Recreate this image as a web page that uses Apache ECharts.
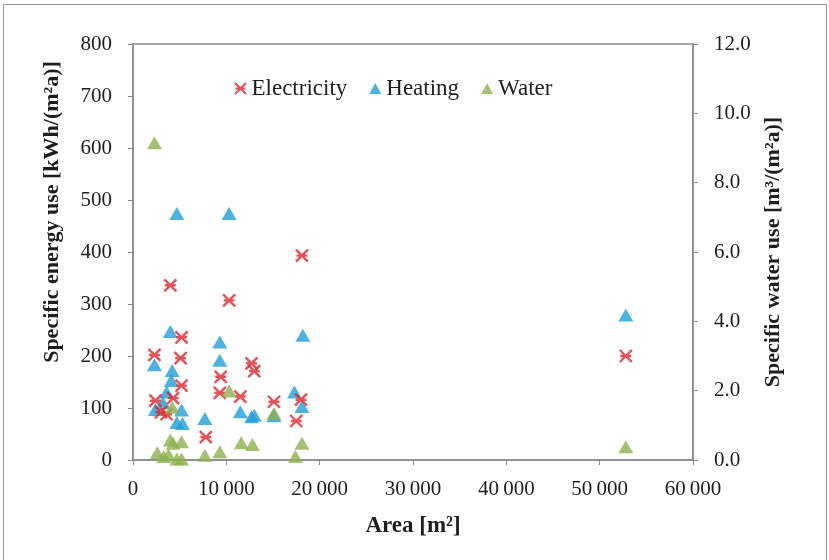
<!DOCTYPE html>
<html lang="en">
<head>
    <meta charset="UTF-8">
    <title>Specific energy and water use vs area</title>
    <script src="https://cdn.jsdelivr.net/npm/echarts@6.0.0/dist/echarts.min.js"></script>
    <style>
        body, html {
            margin: 0;
            padding: 0;
            width: 100%;
            height: 100%;
            overflow: hidden;
            background-color: #fff;
        }
        #frame {
            position: absolute;
            left: 3px;
            top: 4px;
            width: 822px;
            height: 570px;
            border: 1px solid #9a9a9a;
        }
        #container {
            position: absolute;
            left: 0;
            top: 0;
            width: 829px;
            height: 560px;
        }
    </style>
</head>
<body>
    <div id="frame"></div>
    <div id="container"></div>
    <script>
        // data: [area m2, value]
        var electricity = [
            [2300, 202], [4000, 336], [10300, 307], [18100, 393], [52800, 200],
            [5200, 236], [5100, 196], [5200, 143], [12700, 186], [13000, 171],
            [9400, 160], [9300, 129], [11500, 122], [15100, 112], [18000, 116],
            [2400, 114], [4300, 119], [3000, 92], [3600, 88], [17500, 75], [7800, 44]
        ];
        var heating = [
            [4700, 474], [10300, 474], [52800, 279], [4000, 247], [18200, 240],
            [9300, 227], [9300, 192], [2300, 183], [4200, 172], [4100, 153],
            [3600, 131], [17300, 131], [2400, 97], [5200, 96], [11500, 93],
            [12700, 83], [13000, 86], [15100, 85], [18100, 103], [4700, 72],
            [5300, 70], [7700, 80], [3200, 110]
        ];
        var water = [
            [2300, 9.15], [10300, 1.99], [4200, 1.52], [15100, 1.35], [52800, 0.38],
            [4000, 0.58], [5200, 0.53], [4300, 0.48], [11600, 0.5], [12800, 0.45],
            [18100, 0.48], [2600, 0.21], [3300, 0.1], [4700, 0.03], [5200, 0.03],
            [7700, 0.14], [9300, 0.24], [17400, 0.1], [3800, 0.15]
        ];

        var serif = 'Liberation Serif';
        var crossPath = 'path://M0,0L10,10M10,0L0,10M0.5,5L9.5,5';
        var axisGray = '#8a8a8a';
        var textColor = '#1e1e1e';

        function thousands(v) {
            return v === 0 ? '0' : String(v).replace(/\B(?=(\d{3})+(?!\d))/g, '\u2009');
        }

        var chart = echarts.init(document.getElementById('container'));
        chart.setOption({
            animation: false,
            backgroundColor: 'transparent',
            grid: {
                left: 133, right: 136, top: 44, bottom: 100,
                show: true, borderColor: axisGray, borderWidth: 1.5
            },
            legend: {
                top: 72, left: 229,
                itemGap: 22, itemWidth: 12, itemHeight: 11,
                textStyle: { fontFamily: serif, fontSize: 23, color: textColor },
                data: [
                    { name: 'Electricity', icon: crossPath },
                    { name: 'Heating', icon: 'triangle' },
                    { name: 'Water', icon: 'triangle' }
                ]
            },
            // left title sits above the axis centre in the original
            graphic: [{
                type: 'text', x: 52, y: 212, rotation: Math.PI / 2,
                style: {
                    text: 'Specific energy use [kWh/(m²a)]',
                    font: 'bold 22px "Liberation Serif"', fill: textColor,
                    align: 'center', verticalAlign: 'middle'
                }
            }],
            xAxis: {
                type: 'value', min: 0, max: 60000, interval: 10000,
                name: 'Area [m²]', nameLocation: 'middle', nameGap: 55,
                nameTextStyle: { fontFamily: serif, fontSize: 23, fontWeight: 'bold', color: textColor },
                axisLine: { lineStyle: { color: axisGray, width: 1.5 } },
                axisTick: { inside: false, length: 5, lineStyle: { color: axisGray } },
                axisLabel: { fontFamily: serif, fontSize: 21, color: textColor, margin: 19, formatter: thousands },
                splitLine: { show: false }
            },
            yAxis: [{
                type: 'value', min: 0, max: 800, interval: 100,
                axisLine: { show: true, lineStyle: { color: axisGray, width: 1.5 } },
                axisTick: { show: true, length: 5, lineStyle: { color: axisGray } },
                axisLabel: { fontFamily: serif, fontSize: 21, color: textColor, margin: 21 },
                splitLine: { show: false }
            }, {
                type: 'value', min: 0, max: 12, interval: 2,
                name: 'Specific water use [m³/(m²a)]', nameLocation: 'middle', nameGap: 69,
                nameTextStyle: { fontFamily: serif, fontSize: 22, fontWeight: 'bold', color: textColor },
                axisLine: { show: true, lineStyle: { color: axisGray, width: 1.5 } },
                axisTick: { show: true, length: 5, lineStyle: { color: axisGray } },
                axisLabel: { fontFamily: serif, fontSize: 21, color: textColor, margin: 21,
                    formatter: function (v) { return v.toFixed(1); } },
                splitLine: { show: false }
            }],
            series: [{
                name: 'Electricity', type: 'scatter', symbol: crossPath, symbolSize: 12,
                itemStyle: { color: 'rgba(0,0,0,0)', borderColor: '#e3242b', borderWidth: 2.4 },
                data: electricity, z: 3
            }, {
                name: 'Heating', type: 'scatter', symbol: 'triangle', symbolSize: [15, 13],
                itemStyle: { color: '#1f9fda' },
                data: heating, z: 2
            }, {
                name: 'Water', type: 'scatter', symbol: 'triangle', symbolSize: [15, 13], yAxisIndex: 1,
                itemStyle: { color: '#8db24e' },
                data: water, z: 4
            }]
        });
    </script>
</body>
</html>
